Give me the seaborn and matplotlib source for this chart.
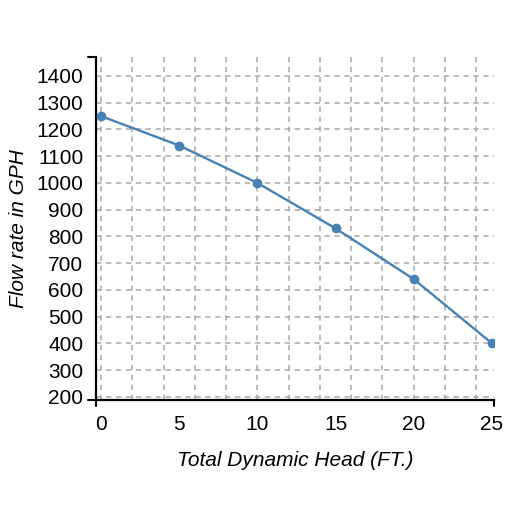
import matplotlib
matplotlib.use("Agg")
import matplotlib.pyplot as plt
import seaborn as sns
import pandas as pd
from matplotlib.ticker import MultipleLocator

# datos de la curva de la bomba
head_ft = [0, 5, 10, 15, 20, 25]
flow_gph = [1250, 1140, 1000, 830, 640, 400]
x_ticks = [0, 5, 10, 15, 20, 25]
y_ticks = [200, 300, 400, 500, 600, 700, 800, 900, 1000, 1100, 1200, 1300, 1400]

df = pd.DataFrame({"head": head_ft, "flow": flow_gph})

sns.set_style("white")
plt.rcParams["font.family"] = ["Liberation Sans", "DejaVu Sans"]

fig = plt.figure(figsize=(5.09, 5.09), dpi=100)
ax = fig.add_axes([0.1886, 0.2141, 0.7819, 0.6739])

sns.lineplot(data=df, x="head", y="flow", ax=ax, color="#4682b4", linewidth=1.7,
             marker="o", markersize=7, markeredgewidth=0, zorder=3)

ax.set_xlim(-0.32, 25.13)
ax.set_ylim(188, 1471)
ax.set_xticks(x_ticks)
ax.set_yticks(y_ticks)
ax.xaxis.set_minor_locator(MultipleLocator(2))
ax.xaxis.remove_overlapping_locs = False

# rejilla punteada
grid_kw = dict(color="#a8a8a8", linestyle=(0, (3.5, 3)), linewidth=1.1)
ax.xaxis.grid(False, which="major")
ax.xaxis.grid(True, which="minor", **grid_kw)
ax.yaxis.grid(True, which="major", **grid_kw)
ax.set_axisbelow(True)

for s in ["top", "right"]:
    ax.spines[s].set_visible(False)
for s in ["left", "bottom"]:
    ax.spines[s].set_color("black")
    ax.spines[s].set_linewidth(1.6)

ax.tick_params(axis="both", which="major", direction="out", length=6, width=1.5,
               color="black", labelsize=15, labelcolor="black")
ax.tick_params(axis="x", which="major", pad=5)
ax.tick_params(axis="y", which="major", pad=3)
ax.tick_params(axis="x", which="minor", length=0)

# marcas de los extremos de los ejes
ax.plot([0, 0], [0, -0.017], transform=ax.transAxes, color="black", lw=1.5, clip_on=False)
ax.plot([1, 1], [0, -0.017], transform=ax.transAxes, color="black", lw=1.5, clip_on=False)
ax.plot([0, -0.02], [1, 1], transform=ax.transAxes, color="black", lw=1.5, clip_on=False)
ax.plot([0, -0.02], [0, 0], transform=ax.transAxes, color="black", lw=1.5, clip_on=False)

ax.set_xlabel("Total Dynamic Head (FT.)", fontsize=15, style="italic", labelpad=12, color="black")
ax.set_ylabel("Flow rate in GPH", fontsize=15, style="italic", labelpad=6, color="black")

fig.savefig("out.png", dpi=100)
